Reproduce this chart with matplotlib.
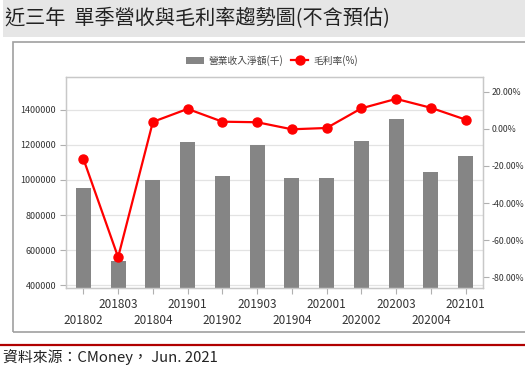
import matplotlib
matplotlib.use("Agg")
import matplotlib.pyplot as plt
from matplotlib.patches import Rectangle
from matplotlib.lines import Line2D

plt.rcParams['font.family'] = ['Noto Sans CJK TC', 'DejaVu Sans']

quarters = ['201802', '201803', '201804', '201901', '201902', '201903',
            '201904', '202001', '202002', '202003', '202004', '202101']
revenue = [955000, 538000, 1002000, 1216000, 1021000, 1197000,
           1008000, 1008000, 1222000, 1347000, 1044000, 1136000]
margin = [-16.1, -69.2, 3.8, 10.8, 3.9, 3.6, -0.2, 0.5, 11.1, 16.2, 11.4, 5.0]

left_ticks = [400000, 600000, 800000, 1000000, 1200000, 1400000]
right_ticks = [-80, -60, -40, -20, 0, 20]

W, H = 525, 385
fig = plt.figure(figsize=(W / 100, H / 100), dpi=100)

# title band
fig.patches.append(Rectangle((3 / W, 1 - 37 / H), 522 / W, 37 / H,
                             transform=fig.transFigure, facecolor='#e6e6e6',
                             edgecolor='none', zorder=0))
fig.text(5 / W, 1 - 19 / H, '近三年  單季營收與毛利率趨勢圖(不含預估)',
         fontsize=14.5, va='center', ha='left', color='#222222')

# chart frame
fig.patches.append(Rectangle((12.5 / W, 1 - 332 / H), 520 / W, 290 / H,
                             transform=fig.transFigure, facecolor='none',
                             edgecolor='#a0a0a0', linewidth=1.2, zorder=0))

# red separator + source
fig.add_artist(Line2D([0, 1], [1 - 344.5 / H] * 2, transform=fig.transFigure,
                      color='#b00000', linewidth=1.6))
fig.text(3 / W, 1 - 357 / H, '資料來源：CMoney， Jun. 2021', fontsize=10.7,
         va='center', ha='left', color='#222222')

ax = fig.add_axes([66 / W, 1 - 288 / H, 417 / W, 211 / H])
x = list(range(len(quarters)))
ax.bar(x, revenue, width=0.43, color='#858585', zorder=2)
ax.set_xlim(-0.5, len(quarters) - 0.5)
ax.set_ylim(385000, 1585000)
ax.set_yticks(left_ticks)
ax.set_yticklabels([str(v) for v in left_ticks])
ax.grid(axis='y', color='#e3e3e3', linewidth=0.9, zorder=0)
ax.set_axisbelow(True)
for s in ax.spines.values():
    s.set_color('#c8c8c8')
    s.set_linewidth(0.9)

ax.set_xticks(x)
ax.set_xticklabels(quarters, fontsize=8.5, color='#333333')
ax.tick_params(axis='x', length=4, color='#b0b0b0', pad=3)
# stagger labels: even positions drop to a second row
for i, t in enumerate(ax.xaxis.get_major_ticks()):
    if i % 2 == 0:
        t.set_pad(15)
ax.tick_params(axis='y', labelsize=6.5, length=4, color='#b0b0b0',
               labelcolor='#333333', pad=3)

ax2 = ax.twinx()
ax2.plot(x, margin, color='#ff0000', linewidth=1.6, marker='o',
         markersize=6.5, zorder=3)
ax2.set_ylim(-85.8, 28)
ax2.set_yticks(right_ticks)
ax2.set_yticklabels(['%.2f%%' % v for v in right_ticks])
ax2.tick_params(axis='y', labelsize=6.3, length=4, color='#b0b0b0',
                labelcolor='#333333', pad=2.5)
for s in ax2.spines.values():
    s.set_color('#c8c8c8')
    s.set_linewidth(0.9)

handles = [Rectangle((0, 0), 1, 1, facecolor='#858585'),
           Line2D([], [], color='#ff0000', linewidth=1.6, marker='o',
                  markersize=6.5)]
fig.legend(handles, ['營業收入淨額(千)', '毛利率(%)'], loc='center',
           bbox_to_anchor=(272 / W, 1 - 60.5 / H), ncol=2, frameon=False,
           fontsize=7, handlelength=1.8, handletextpad=0.5,
           columnspacing=0.8, labelcolor='#444444')

fig.savefig('out.png', dpi=100)
